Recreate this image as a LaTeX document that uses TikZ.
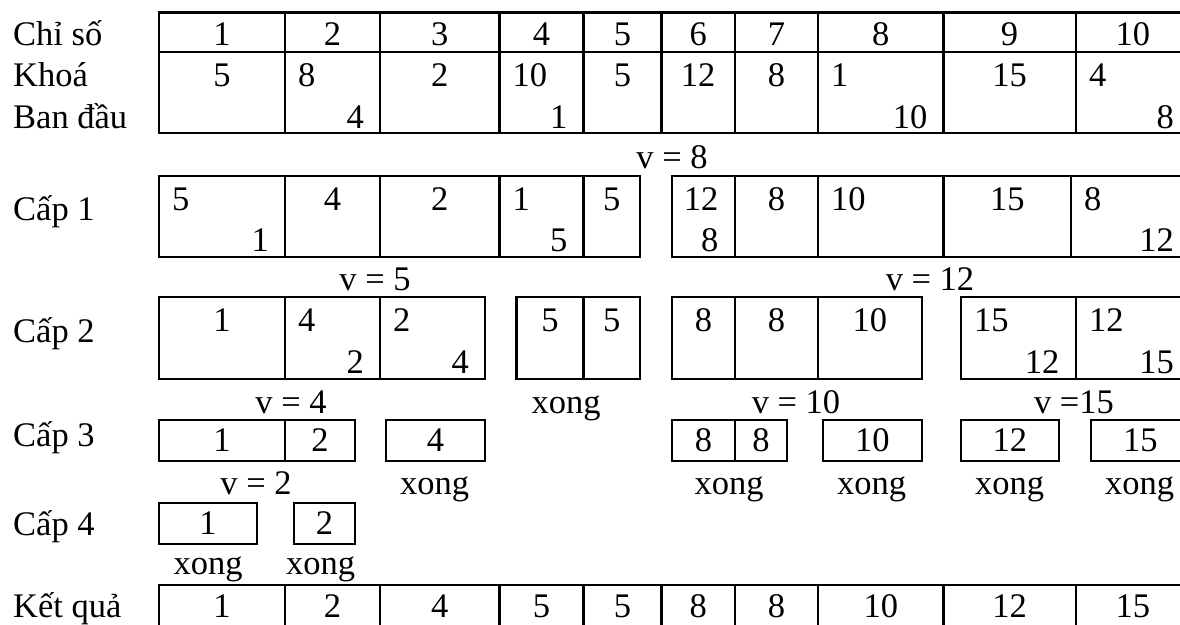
\documentclass[tikz,border=0pt]{standalone}
\usepackage{fontspec}
\setmainfont{Liberation Serif}
\begin{document}
\begin{tikzpicture}[x=1pt,y=-1pt,
  ln/.style={line width=2.3pt},
  t/.style={inner sep=0pt,font=\fontsize{34.5}{40}\selectfont},
  c/.style={t,anchor=base},
  tl/.style={t,anchor=base west},
  br/.style={t,anchor=base east}]
\useasboundingbox (0,0) rectangle (1180,624);
\clip (0,0) rectangle (1180,624);
% ---------- row labels
\node[tl] (lChiSo) at (13,45) {Chỉ số};
\node[tl] (lKhoa) at (13,86.7) {Khoá};
\node[tl] (lBan) at (13,128) {Ban đầu};
\node[tl] (lC1) at (13,220) {Cấp 1};
\node[tl] (lC2) at (13,342) {Cấp 2};
\node[tl] (lC3) at (13,446) {Cấp 3};
\node[tl] (lC4) at (13,535) {Cấp 4};
\node[tl] (lKQ) at (13,617) {Kết quả};
% ---------- top table
\draw[ln] (159,12.5) rectangle (1190,133.3);
\draw[ln] (159,52.3) -- (1190,52.3);
\foreach \x in {285,380,499.4,583.6,661.5,735,818,943.6,1075.7}
  \draw[ln] (\x,12.5) -- (\x,133.3);
\foreach \v/\x [count=\i] in {1/222,2/332.5,3/439.7,4/541.5,5/622.5,6/698.2,7/776.5,8/880.8,9/1009.6,10/1132.8}
  \node[c] (h\i) at (\x,45) {\v};
\node[c] (k1) at (222,86.7) {5};
\node[tl] (k2) at (298,86.7) {8};
\node[br] (k2b) at (364,128) {4};
\node[c] (k3) at (439.7,86.7) {2};
\node[tl] (k4) at (512.4,86.7) {10};
\node[br] (k4b) at (567.6,128) {1};
\node[c] (k5) at (622.5,86.7) {5};
\node[c] (k6) at (698.2,86.7) {12};
\node[c] (k7) at (776.5,86.7) {8};
\node[tl] (k8) at (831,86.7) {1};
\node[br] (k8b) at (927.6,128) {10};
\node[c] (k9) at (1009.6,86.7) {15};
\node[tl] (k10) at (1089,86.7) {4};
\node[br] (k10b) at (1174,128) {8};
\node[c] (v8) at (672,168) {v = 8};
% ---------- Cap 1
\draw[ln] (159,175.7) rectangle (640,256.7);
\foreach \x in {285,380,499.4,583.6} \draw[ln] (\x,175.7) -- (\x,256.7);
\draw[ln] (671.8,175.7) rectangle (1190,256.7);
\foreach \x in {735,818,943.6,1071} \draw[ln] (\x,175.7) -- (\x,256.7);
\node[tl] (a1) at (172,210.1) {5};
\node[br] (a1b) at (269,251.4) {1};
\node[c] (a2) at (332.5,210.1) {4};
\node[c] (a3) at (439.7,210.1) {2};
\node[tl] (a4) at (512.4,210.1) {1};
\node[br] (a4b) at (567.6,251.4) {5};
\node[c] (a5) at (611.8,210.1) {5};
\node[br] (a6) at (718.5,210.1) {12};
\node[br] (a6b) at (718.5,251.4) {8};
\node[c] (a7) at (776.5,210.1) {8};
\node[tl] (a8) at (831,210.1) {10};
\node[c] (a9) at (1007.3,210.1) {15};
\node[tl] (a10) at (1084,210.1) {8};
\node[br] (a10b) at (1174,251.4) {12};
\node[c] (v5) at (375,290) {v = 5};
\node[c] (v12) at (930,290) {v = 12};
% ---------- Cap 2
\draw[ln] (159,297.3) rectangle (485,379);
\foreach \x in {285,380} \draw[ln] (\x,297.3) -- (\x,379);
\draw[ln] (516.6,297.3) rectangle (640,379);
\draw[ln] (583.6,297.3) -- (583.6,379);
\draw[ln] (671.8,297.3) rectangle (921.7,379);
\foreach \x in {735,818} \draw[ln] (\x,297.3) -- (\x,379);
\draw[ln] (960.8,297.3) rectangle (1190,379);
\draw[ln] (1075.7,297.3) -- (1075.7,379);
\node[c] (b1) at (222,331.7) {1};
\node[tl] (b2) at (298,331.7) {4};
\node[br] (b2b) at (364,373) {2};
\node[tl] (b3) at (393,331.7) {2};
\node[br] (b3b) at (469,373) {4};
\node[c] (b4) at (550.1,331.7) {5};
\node[c] (b5) at (611.8,331.7) {5};
\node[c] (b6) at (703.4,331.7) {8};
\node[c] (b7) at (776.5,331.7) {8};
\node[c] (b8) at (869.9,331.7) {10};
\node[tl] (b9) at (974,331.7) {15};
\node[br] (b9b) at (1059.5,373) {12};
\node[tl] (b10) at (1089,331.7) {12};
\node[br] (b10b) at (1174,373) {15};
\node[c] (v4) at (291,413) {v = 4};
\node[c] (x2a) at (566,413) {xong};
\node[c] (v10) at (796,413) {v = 10};
\node[c] (v15) at (1074,413) {v =15};
% ---------- Cap 3
\draw[ln] (159,420) rectangle (355,461);
\draw[ln] (285,420) -- (285,461);
\draw[ln] (386,420) rectangle (485,461);
\draw[ln] (671.8,420) rectangle (786.7,461);
\draw[ln] (735,420) -- (735,461);
\draw[ln] (823,420) rectangle (921.7,461);
\draw[ln] (960.8,420) rectangle (1059,461);
\draw[ln] (1090.7,420) rectangle (1190,461);
\node[c] (d1) at (222,451.7) {1};
\node[c] (d2) at (320,451.7) {2};
\node[c] (d3) at (435.5,451.7) {4};
\node[c] (d4) at (703.4,451.7) {8};
\node[c] (d5) at (760.9,451.7) {8};
\node[c] (d6) at (872.4,451.7) {10};
\node[c] (d7) at (1009.9,451.7) {12};
\node[c] (d8) at (1140.4,451.7) {15};
\node[c] (v2) at (256,494) {v = 2};
\node[c] (x3a) at (434.5,494) {xong};
\node[c] (x3b) at (729,494) {xong};
\node[c] (x3c) at (871.5,494) {xong};
\node[c] (x3d) at (1009.5,494) {xong};
\node[c] (x3e) at (1139.5,494) {xong};
% ---------- Cap 4
\draw[ln] (159,503) rectangle (257,544);
\draw[ln] (294,503) rectangle (355,544);
\node[c] (e1) at (208,534) {1};
\node[c] (e2) at (324.5,534) {2};
\node[c] (x4a) at (208,574) {xong};
\node[c] (x4b) at (320.5,574) {xong};
% ---------- result table
\draw[ln] (159,585) rectangle (1190,626);
\foreach \x in {285,380,499.4,583.6,661.5,735,818,943.6,1075.7}
  \draw[ln] (\x,585) -- (\x,626);
\foreach \v/\x [count=\i] in {1/222,2/332.5,4/439.7,5/541.5,5/622.5,8/698.2,8/776.5,10/880.8,12/1009.6,15/1132.8}
  \node[c] (r\i) at (\x,617) {\v};
\end{tikzpicture}
\end{document}
